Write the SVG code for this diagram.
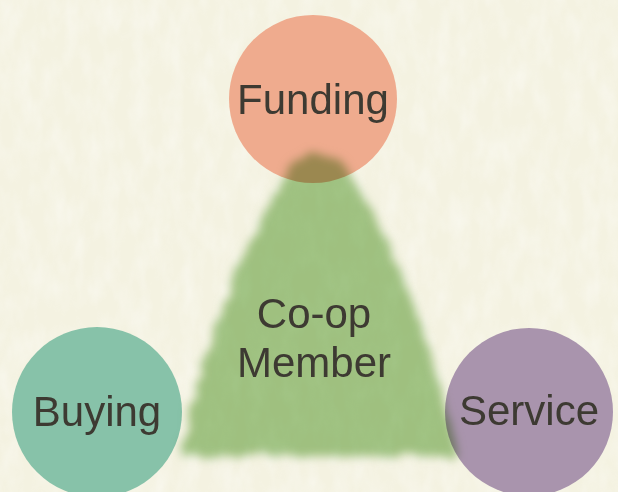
<svg xmlns="http://www.w3.org/2000/svg" width="618" height="492" viewBox="0 0 618 492">
<style>
.lbl{font-family:"Liberation Sans",Arial,sans-serif;font-size:42px;fill:#3d3a32;text-anchor:middle}
</style>
<defs>
<filter id="paper" x="0" y="0" width="100%" height="100%">
<feTurbulence type="fractalNoise" baseFrequency="0.06 0.03" numOctaves="3" seed="4" result="n"/>
<feColorMatrix in="n" type="matrix" values="0 0 0 0 1  0 0 0 0 1  0 0 0 0 1  0 0 0 -1.4 0.9" result="w"/>
<feComposite in="w" in2="SourceGraphic" operator="in"/>
</filter>
<filter id="soft" x="-20%" y="-20%" width="140%" height="140%">
<feTurbulence type="fractalNoise" baseFrequency="0.05" numOctaves="2" seed="2" result="t"/>
<feDisplacementMap in="SourceGraphic" in2="t" scale="12" result="d"/>
<feGaussianBlur in="d" stdDeviation="5"/>
</filter>
</defs>
<rect width="618" height="492" fill="#f4f2e1"/>
<rect width="618" height="492" fill="#fbfaf0" filter="url(#paper)" opacity="0.45"/>
<g id="funding">
<circle cx="313" cy="99" r="84" fill="#efab8e"/>
<text class="lbl" x="313" y="114">Funding</text>
</g>
<g id="buying">
<circle cx="97" cy="412" r="85" fill="#87c2a9"/>
<text class="lbl" x="97" y="426">Buying</text>
</g>
<g id="service">
<circle cx="529" cy="412" r="84" fill="#a994ad"/>
<text class="lbl" x="529" y="425">Service</text>
</g>
<g id="member">
<path d="M296,162 Q318,146 342,162 Q415,270 458,456 L180,456 Q220,270 296,162 Z" fill="#a6cb90" filter="url(#soft)" style="mix-blend-mode:multiply"/>
<text class="lbl" x="314" y="328">Co-op</text>
<text class="lbl" x="314" y="377">Member</text>
</g>
<g id="connectors"/>
</svg>
